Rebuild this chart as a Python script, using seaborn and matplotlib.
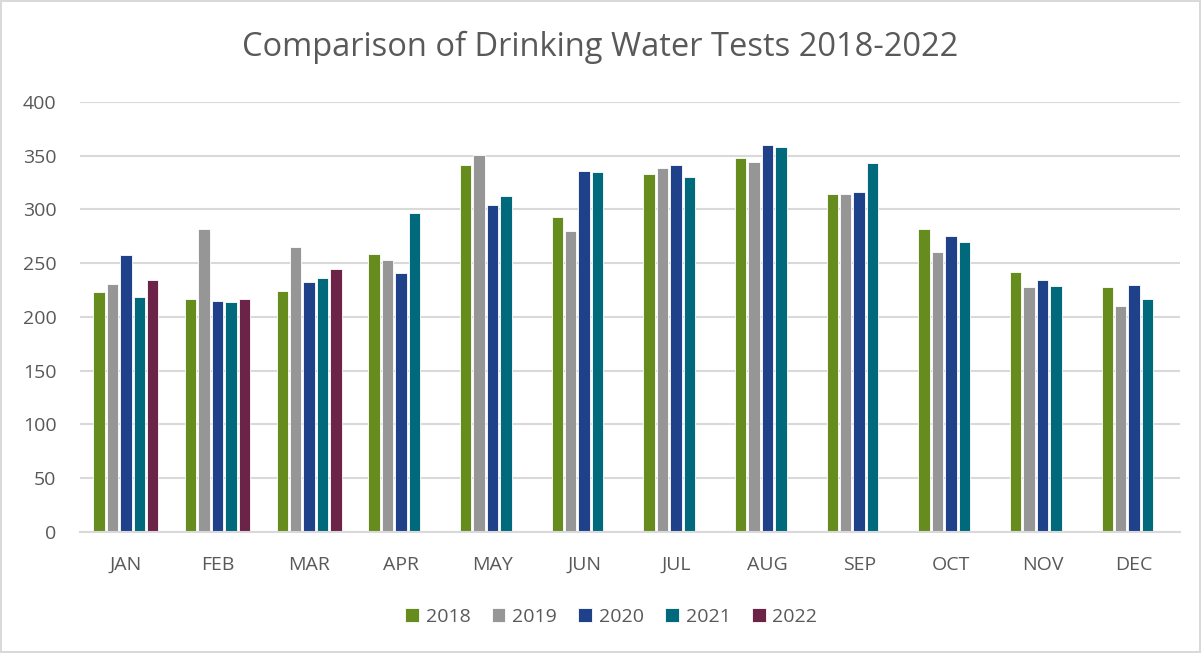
import numpy as np
import pandas as pd
import matplotlib
matplotlib.use("Agg")
import matplotlib.pyplot as plt
import seaborn as sns

months = ["JAN", "FEB", "MAR", "APR", "MAY", "JUN", "JUL", "AUG", "SEP", "OCT", "NOV", "DEC"]
years = ["2018", "2019", "2020", "2021", "2022"]

tests_2018 = [223, 217, 224, 259, 341, 293, 333, 348, 314, 282, 242, 228]
tests_2019 = [231, 282, 265, 253, 351, 280, 339, 344, 314, 260, 228, 210]
tests_2020 = [258, 215, 233, 241, 304, 336, 341, 360, 316, 275, 234, 230]
tests_2021 = [219, 214, 236, 297, 313, 335, 330, 358, 343, 270, 229, 217]
tests_2022 = [234, 217, 245, np.nan, np.nan, np.nan, np.nan, np.nan, np.nan, np.nan, np.nan, np.nan]

colors = ["#678C1E", "#969696", "#1F4189", "#006A7C", "#6B2348"]
text_col = "#595959"

sns.set_style("white")
plt.rcParams["font.family"] = ["Open Sans", "DejaVu Sans"]

rows = []
for yr, vals in zip(years, [tests_2018, tests_2019, tests_2020, tests_2021, tests_2022]):
    for m, v in zip(months, vals):
        rows.append({"month": m, "year": yr, "tests": v})
df = pd.DataFrame(rows)

fig = plt.figure(figsize=(12.01, 6.53), dpi=100)
ax = fig.add_axes([0.0666, 0.1853, 0.9159, 0.6585])

sns.barplot(data=df, x="month", y="tests", hue="year", order=months, hue_order=years,
            palette=colors, width=0.73, gap=0.15, edgecolor="white", linewidth=0.6,
            saturation=1, ax=ax, legend=True)

ax.set_ylim(0, 400)
ax.set_xlim(-0.5, 11.5)
ax.set_yticks(range(0, 401, 50))
ax.yaxis.grid(True, color="#D9D9D9", linewidth=1.5)
ax.set_axisbelow(True)
for s in ["top", "right", "left"]:
    ax.spines[s].set_visible(False)
ax.spines["bottom"].set_color("#D9D9D9")
ax.spines["bottom"].set_linewidth(1.5)
ax.set_xlabel("")
ax.set_ylabel("")
ax.tick_params(axis="y", length=0, pad=17, labelsize=14, labelcolor=text_col)
ax.tick_params(axis="x", length=0, pad=17, labelsize=14, labelcolor=text_col)

fig.text(0.5, 0.927, "Comparison of Drinking Water Tests 2018-2022", ha="center", va="center",
         fontsize=23.5, color=text_col)

handles, labels = ax.get_legend_handles_labels()
ax.legend_.remove()
fig.legend(handles, labels, loc="center", bbox_to_anchor=(0.509, 0.055), ncol=5, frameon=False,
           fontsize=14, labelcolor=text_col, handlelength=0.7, handleheight=0.7,
           handletextpad=0.35, columnspacing=1.1)

fig.patch.set_edgecolor("#D9D9D9")
fig.patch.set_linewidth(1.5)
fig.savefig("out.png", dpi=100, edgecolor=fig.get_edgecolor())
